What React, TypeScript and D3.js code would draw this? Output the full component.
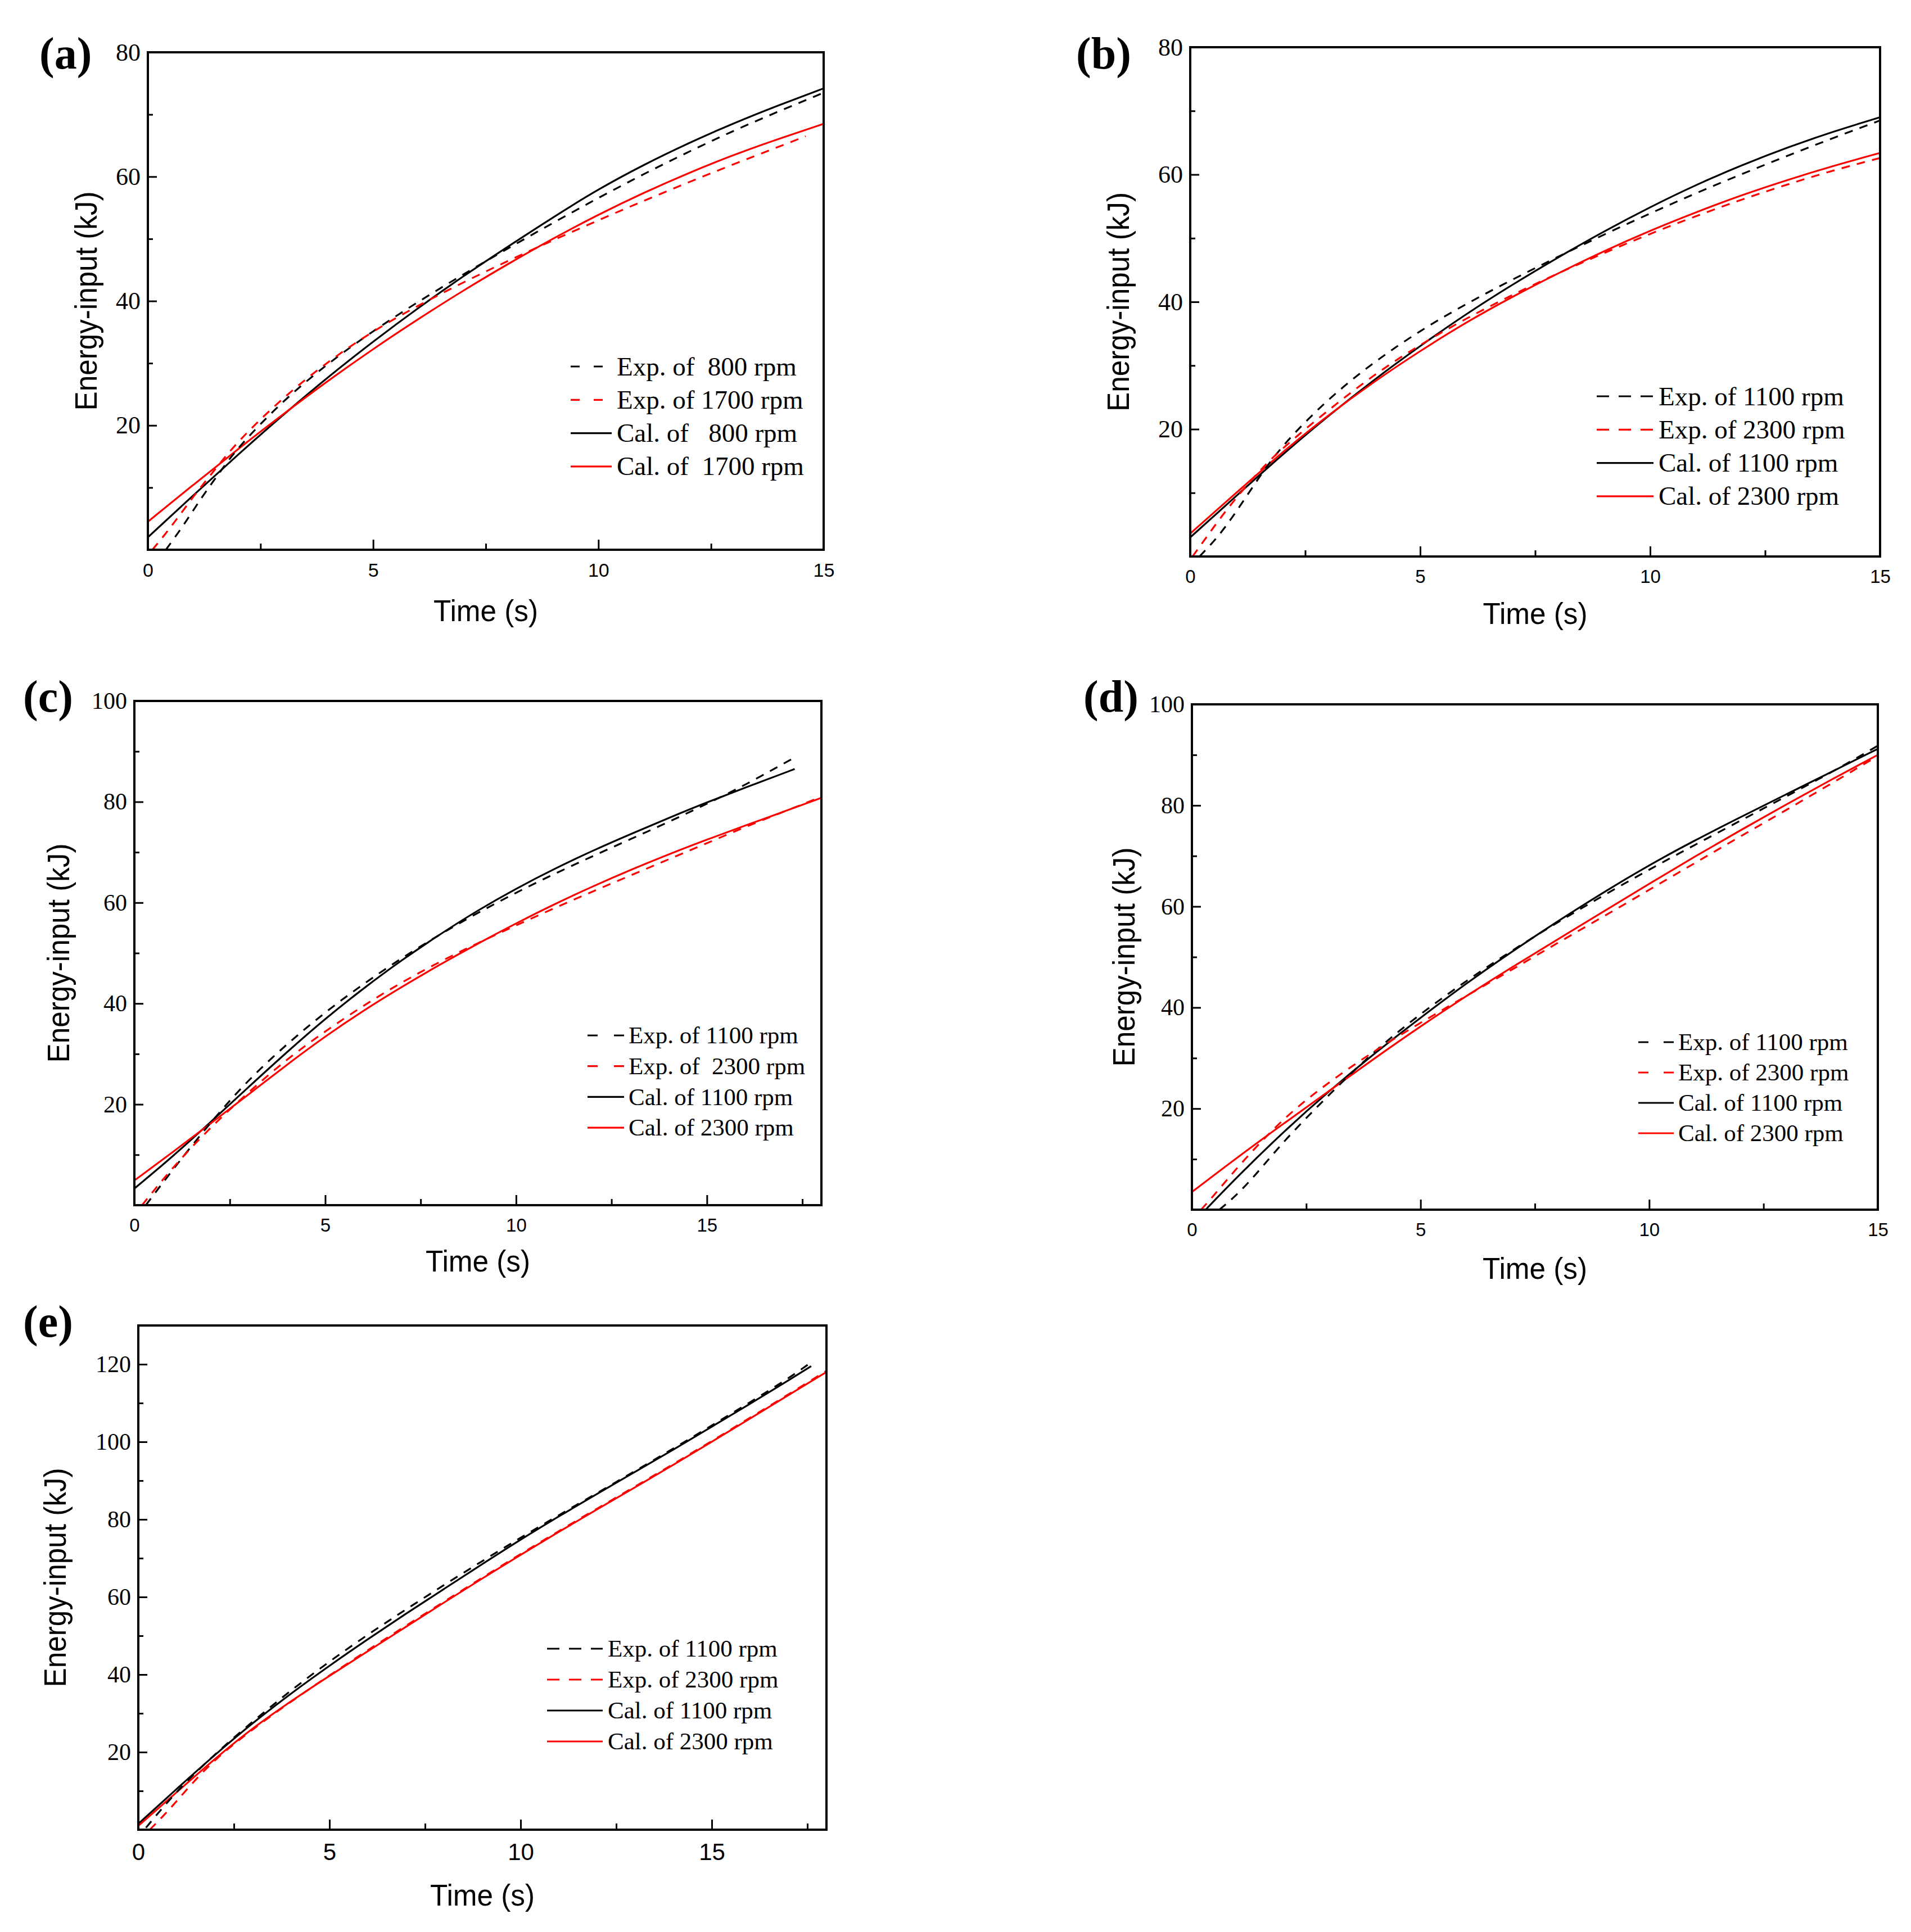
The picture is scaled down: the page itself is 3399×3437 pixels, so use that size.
import React, { useEffect, useRef } from "react";
import * as d3 from "d3";

type Pt = [number, number];

// ---- (a) 800 / 1700 rpm ----
const aExp800: Pt[] = [[0.4, 0], [0.8, 4], [1.2, 8.5], [1.6, 12.5], [2, 16.5], [3, 24], [4, 30], [5, 35.2], [6, 39.9], [7, 44.3], [8, 48.5], [9, 52.6], [10, 56.6], [11, 60.4], [12, 64], [13, 67.4], [14, 70.5], [15, 73.5]];
const aExp1700: Pt[] = [[0.1, 0], [0.5, 3.5], [1, 8.5], [1.5, 13], [2, 17.5], [3, 24.5], [4, 30.3], [5, 35.2], [6, 39.3], [7, 43], [8, 46.5], [9, 49.8], [10, 53], [11, 56.1], [12, 59.1], [13, 62], [14, 64.8], [14.6, 66.5]];
const aCal800: Pt[] = [[0, 2], [1, 8.7], [2, 15.3], [3, 21.7], [4, 27.8], [5, 33.5], [6, 38.9], [7, 44], [8, 48.8], [9, 53.5], [10, 58], [11, 61.9], [12, 65.4], [13, 68.6], [14, 71.5], [15, 74.2]];
const aCal1700: Pt[] = [[0, 4.5], [1, 10.4], [2, 16.2], [3, 21.8], [4, 27.2], [5, 32.3], [6, 37.1], [7, 41.7], [8, 46], [9, 50.1], [10, 53.9], [11, 57.4], [12, 60.6], [13, 63.5], [14, 66.1], [15, 68.5]];

// ---- (b) 1100 / 2300 rpm ----
const bExp1100: Pt[] = [[0.2, 0], [0.6, 3], [1, 7], [1.5, 12.5], [2, 17.5], [3, 24.8], [4, 30.6], [5, 35.5], [6, 39.7], [7, 43.5], [8, 47.1], [9, 50.6], [10, 53.9], [11, 57.1], [12, 60.1], [13, 63], [14, 65.8], [15, 68.5]];
const bExp2300: Pt[] = [[0.05, 0], [0.4, 3.5], [0.8, 7.5], [1.5, 13.5], [2, 17], [3, 23], [4, 28.6], [5, 33.3], [6, 37.4], [7, 41.1], [8, 44.5], [9, 47.7], [10, 50.7], [11, 53.5], [12, 56.1], [13, 58.5], [14, 60.7], [15, 62.6]];
const bCal1100: Pt[] = [[0, 3], [1, 9.5], [2, 16], [3, 22.1], [4, 27.8], [5, 33.1], [6, 38.1], [7, 42.7], [8, 47], [9, 51.1], [10, 54.9], [11, 58.4], [12, 61.5], [13, 64.3], [14, 66.8], [15, 69]];
const bCal2300: Pt[] = [[0, 3.6], [1, 10], [2, 16.4], [3, 22.2], [4, 27.5], [5, 32.3], [6, 36.8], [7, 40.8], [8, 44.5], [9, 48], [10, 51.2], [11, 54.1], [12, 56.8], [13, 59.2], [14, 61.4], [15, 63.4]];

// ---- (c) 1100 / 2300 rpm ----
const cExp1100: Pt[] = [[0.3, 0], [1, 7], [2, 16.5], [3, 25], [4, 32], [5, 38.3], [6, 43.9], [7, 49], [8, 53.7], [9, 58], [10, 62], [11, 65.7], [12, 69.2], [13, 72.6], [14, 76], [15, 79.6], [16, 83.3], [17.3, 88.8]];
const cExp2300: Pt[] = [[0.2, 0], [1, 7.5], [2, 15.5], [3, 22.5], [4, 29], [5, 34.5], [6, 39.6], [7, 44.2], [8, 48.3], [9, 52], [10, 55.5], [11, 58.9], [12, 62.2], [13, 65.4], [14, 68.6], [15, 71.8], [16, 75], [17, 78], [18, 81]];
const cCal1100: Pt[] = [[0, 3.3], [1, 9.6], [2, 16.5], [3, 23.5], [4, 30.4], [5, 37], [6, 43], [7, 48.6], [8, 53.7], [9, 58.5], [10, 62.8], [11, 66.7], [12, 70.3], [13, 73.6], [14, 76.8], [15, 79.9], [16, 82.8], [17.3, 86.5]];
const cCal2300: Pt[] = [[0, 4.9], [1, 10.5], [2, 16.2], [3, 22], [4, 27.9], [5, 33.5], [6, 38.6], [7, 43.3], [8, 47.7], [9, 51.9], [10, 55.9], [11, 59.7], [12, 63.2], [13, 66.5], [14, 69.6], [15, 72.5], [16, 75.3], [17, 78], [18, 80.8]];

// ---- (d) 1100 / 2300 rpm ----
const dExp1100: Pt[] = [[0.6, 0], [1, 3], [1.5, 8], [2, 13.5], [3, 22.8], [4, 31.5], [5, 38.8], [6, 45.3], [7, 51.3], [8, 56.9], [9, 62.2], [10, 67.3], [11, 72.2], [12, 77], [13, 81.8], [14, 86.6], [15, 91.8]];
const dExp2300: Pt[] = [[0.2, 0], [0.5, 3], [1, 8.5], [2, 18.2], [3, 25.3], [4, 31.5], [5, 37], [6, 42.3], [7, 47.5], [8, 52.8], [9, 58], [10, 63.3], [11, 68.6], [12, 73.9], [13, 79.1], [14, 84.4], [15, 89.8]];
const dCal1100: Pt[] = [[0.3, 0], [1, 6.6], [2, 15.4], [3, 23.5], [4, 31], [5, 38], [6, 44.8], [7, 51.1], [8, 57.1], [9, 62.8], [10, 68.2], [11, 73.1], [12, 77.7], [13, 82.2], [14, 86.7], [15, 91.2]];
const dCal2300: Pt[] = [[0, 3.5], [1, 10.4], [2, 17], [3, 23.5], [4, 30], [5, 36.3], [6, 42.3], [7, 48], [8, 53.5], [9, 59], [10, 64.5], [11, 69.9], [12, 75.1], [13, 80.2], [14, 85.2], [15, 90]];

// ---- (e) 1100 / 2300 rpm ----
const eExp1100: Pt[] = [[0.2, 0.5], [1, 10], [2, 19.5], [3, 28], [4, 36], [5, 43.4], [6, 50.3], [7, 56.8], [8, 63.1], [9, 69.3], [10, 75.3], [11, 81.1], [12, 86.8], [13, 92.5], [14, 98.3], [15, 104.2], [16, 110.2], [17, 116.3], [17.6, 120.5]];
const eExp2300: Pt[] = [[0.3, 0], [0.8, 5], [1.3, 10.8], [2, 18.2], [3, 26], [4, 33.1], [5, 39.8], [6, 46.3], [7, 52.6], [8, 58.8], [9, 65], [10, 71.1], [11, 77], [12, 82.8], [13, 88.5], [14, 94.3], [15, 100.2], [16, 106.2], [17, 112.2], [18, 118.3]];
const eCal1100: Pt[] = [[0, 1.5], [1, 10.5], [2, 19.3], [3, 27.6], [4, 35.2], [5, 42.3], [6, 49.1], [7, 55.7], [8, 62.1], [9, 68.5], [10, 74.8], [11, 80.8], [12, 86.6], [13, 92.3], [14, 98], [15, 103.9], [16, 109.8], [17, 115.8], [17.6, 119.5]];
const eCal2300: Pt[] = [[0, 1], [1, 9.6], [2, 18.3], [3, 26.3], [4, 33.2], [5, 39.7], [6, 46], [7, 52.3], [8, 58.6], [9, 64.8], [10, 70.9], [11, 76.8], [12, 82.6], [13, 88.3], [14, 94.1], [15, 100], [16, 106], [17, 112], [18, 118]];

// legend texts
const legendA = ["Exp. of  800 rpm", "Exp. of 1700 rpm", "Cal. of   800 rpm", "Cal. of  1700 rpm"];
const legendB = ["Exp. of 1100 rpm", "Exp. of 2300 rpm", "Cal. of 1100 rpm", "Cal. of 2300 rpm"];
const legendC = ["Exp. of 1100 rpm", "Exp. of  2300 rpm", "Cal. of 1100 rpm", "Cal. of 2300 rpm"];
const legendD = ["Exp. of 1100 rpm", "Exp. of 2300 rpm", "Cal. of 1100 rpm", "Cal. of 2300 rpm"];
const legendE = ["Exp. of 1100 rpm", "Exp. of 2300 rpm", "Cal. of 1100 rpm", "Cal. of 2300 rpm"];

// ticks
const xMajor15 = [0, 5, 10, 15];
const xMinor15 = [2.5, 7.5, 12.5];
const xMinor18 = [2.5, 7.5, 12.5, 17.5];
const yMajor80 = [20, 40, 60, 80];
const yMinor80 = [10, 30, 50, 70];
const yMajor100 = [20, 40, 60, 80, 100];
const yMinor100 = [10, 30, 50, 70, 90];
const yMajor130 = [20, 40, 60, 80, 100, 120];
const yMinor130 = [10, 30, 50, 70, 90, 110];

const colors = ["#000", "#ff0000", "#000", "#ff0000"];
const dashed = [true, true, false, false];

const W = 3399;
const H = 3437;
const SERIF = "'Liberation Serif', 'Times New Roman', serif";
const SANS = "'Liberation Sans', Arial, sans-serif";

const panels = [
  {
    tag: "(a)", series: [aExp800, aExp1700, aCal800, aCal1700], legend: legendA,
    xMax: 15, yMax: 80, xMajor: xMajor15, xMinor: xMinor15, yMajor: yMajor80, yMinor: yMinor80,
    frame: { x0: 263, x1: 1465, y0: 93, y1: 978 }, tagPos: [70, 122], yLabelX: 152, timeY: 1105,
    xFont: 34, yFont: 44,
    lg: { x: 1015, len: 73, tx: 1097, y: 652, gap: 59.3, font: 47, dash: "16,25" },
  },
  {
    tag: "(b)", series: [bExp1100, bExp2300, bCal1100, bCal2300], legend: legendB,
    xMax: 15, yMax: 80, xMajor: xMajor15, xMinor: xMinor15, yMajor: yMajor80, yMinor: yMinor80,
    frame: { x0: 2117, x1: 3344, y0: 84, y1: 990 }, tagPos: [1914, 122], yLabelX: 1988, timeY: 1110,
    xFont: 33, yFont: 44,
    lg: { x: 2840, len: 101, tx: 2950, y: 705, gap: 59.3, font: 47, dash: "22,17" },
  },
  {
    tag: "(c)", series: [cExp1100, cExp2300, cCal1100, cCal2300], legend: legendC,
    xMax: 18, yMax: 100, xMajor: xMajor15, xMinor: xMinor18, yMajor: yMajor100, yMinor: yMinor100,
    frame: { x0: 239, x1: 1461, y0: 1247, y1: 2144 }, tagPos: [41, 1266], yLabelX: 103, timeY: 2262,
    xFont: 33, yFont: 42,
    lg: { x: 1045, len: 65, tx: 1118, y: 1842, gap: 54.7, font: 43, dash: "18,29" },
  },
  {
    tag: "(d)", series: [dExp1100, dExp2300, dCal1100, dCal2300], legend: legendD,
    xMax: 15, yMax: 100, xMajor: xMajor15, xMinor: xMinor15, yMajor: yMajor100, yMinor: yMinor100,
    frame: { x0: 2120, x1: 3340, y0: 1253, y1: 2152 }, tagPos: [1927, 1266], yLabelX: 1998, timeY: 2275,
    xFont: 33, yFont: 42,
    lg: { x: 2914, len: 63, tx: 2985, y: 1854, gap: 54, font: 43, dash: "18,27" },
  },
  {
    tag: "(e)", series: [eExp1100, eExp2300, eCal1100, eCal2300], legend: legendE,
    xMax: 18, yMax: 130, xMajor: xMajor15, xMinor: xMinor18, yMajor: yMajor130, yMinor: yMinor130,
    frame: { x0: 246, x1: 1470, y0: 2358, y1: 3255 }, tagPos: [41, 2378], yLabelX: 97, timeY: 3390,
    xFont: 42, yFont: 42,
    lg: { x: 973, len: 99, tx: 1081, y: 2933, gap: 55, font: 43, dash: "22,17" },
  },
];

const App: React.FC = () => {
  const svgRef = useRef<SVGSVGElement | null>(null);

  useEffect(() => {
    if (svgRef.current) drawChart(svgRef.current);
  }, []);

  const drawChart = (el: SVGSVGElement) => {
    const svg = d3.select(el);
    svg.selectAll("*").remove();
    svg.append("rect").attr("width", W).attr("height", H).attr("fill", "#fff");

    panels.forEach((p, pi) => {
      const f = p.frame;
      const x = d3.scaleLinear().domain([0, p.xMax]).range([f.x0, f.x1]);
      const y = d3.scaleLinear().domain([0, p.yMax]).range([f.y1, f.y0]);
      const g = svg.append("g");

      // clip
      const clipId = `clip-${pi}`;
      g.append("clipPath").attr("id", clipId)
        .append("rect").attr("x", f.x0).attr("y", f.y0)
        .attr("width", f.x1 - f.x0).attr("height", f.y1 - f.y0);

      const line = d3.line<Pt>().x((d) => x(d[0])).y((d) => y(d[1])).curve(d3.curveBasis);

      // calculated first, experimental dashes on top
      [2, 3, 0, 1].forEach((si) => {
        g.append("path")
          .datum(p.series[si])
          .attr("clip-path", `url(#${clipId})`)
          .attr("fill", "none")
          .attr("stroke", colors[si])
          .attr("stroke-width", 3.2)
          .attr("stroke-dasharray", dashed[si] ? "15,13" : null)
          .attr("d", line);
      });

      // axes: inward ticks
      const styleAxis = (ax: d3.Selection<SVGGElement, unknown, null, undefined>, font: string, size: number) => {
        ax.attr("font-family", null).attr("font-size", null);
        ax.select(".domain").remove();
        ax.selectAll("line").attr("stroke", "#000").attr("stroke-width", 3);
        ax.selectAll("text").attr("fill", "#000").attr("font-family", font).attr("font-size", size);
      };

      const gx = g.append("g").attr("transform", `translate(0,${f.y1})`)
        .call(d3.axisBottom(x).tickValues(p.xMajor).tickSize(-18).tickPadding(24).tickFormat(d3.format("d")));
      styleAxis(gx, SANS, p.xFont);
      const gxm = g.append("g").attr("transform", `translate(0,${f.y1})`)
        .call(d3.axisBottom(x).tickValues(p.xMinor).tickSize(-11).tickFormat(() => ""));
      styleAxis(gxm, SANS, p.xFont);

      const gy = g.append("g").attr("transform", `translate(${f.x0},0)`)
        .call(d3.axisLeft(y).tickValues(p.yMajor).tickSize(-16).tickPadding(13).tickFormat(d3.format("d")));
      styleAxis(gy, SERIF, p.yFont);
      const gym = g.append("g").attr("transform", `translate(${f.x0},0)`)
        .call(d3.axisLeft(y).tickValues(p.yMinor).tickSize(-9).tickFormat(() => ""));
      styleAxis(gym, SERIF, p.yFont);

      // frame
      g.append("rect")
        .attr("x", f.x0).attr("y", f.y0)
        .attr("width", f.x1 - f.x0).attr("height", f.y1 - f.y0)
        .attr("fill", "none").attr("stroke", "#000").attr("stroke-width", 4);

      // axis titles
      g.append("text")
        .attr("transform", `translate(${p.yLabelX},${(f.y0 + f.y1) / 2}) rotate(-90)`)
        .attr("text-anchor", "middle")
        .attr("dominant-baseline", "central")
        .attr("font-family", SANS)
        .attr("font-size", 56)
        .attr("textLength", 390)
        .attr("lengthAdjust", "spacingAndGlyphs")
        .attr("fill", "#000")
        .text("Energy-input (kJ)");

      g.append("text")
        .attr("x", (f.x0 + f.x1) / 2)
        .attr("y", p.timeY)
        .attr("text-anchor", "middle")
        .attr("font-family", SANS)
        .attr("font-size", 54)
        .attr("textLength", 186)
        .attr("lengthAdjust", "spacingAndGlyphs")
        .attr("fill", "#000")
        .text("Time (s)");

      // panel tag
      g.append("text")
        .attr("x", p.tagPos[0])
        .attr("y", p.tagPos[1])
        .attr("font-family", SERIF)
        .attr("font-weight", "bold")
        .attr("font-size", 80)
        .attr("fill", "#000")
        .text(p.tag);

      // legend
      const lg = p.lg;
      p.legend.forEach((label, i) => {
        const cy = lg.y + i * lg.gap;
        g.append("line")
          .attr("x1", lg.x).attr("x2", lg.x + lg.len)
          .attr("y1", cy).attr("y2", cy)
          .attr("stroke", colors[i])
          .attr("stroke-width", 3.2)
          .attr("stroke-dasharray", dashed[i] ? lg.dash : null);
        g.append("text")
          .attr("x", lg.tx)
          .attr("y", cy + lg.font * 0.33)
          .attr("font-family", SERIF)
          .attr("font-size", lg.font)
          .attr("fill", "#000")
          .style("white-space", "pre")
          .text(label);
      });
    });
  };

  return (
    <div style={{ position: "absolute", left: 0, top: 0 }}>
      <svg ref={svgRef} width={W} height={H} style={{ display: "block" }}></svg>
    </div>
  );
};

export default App;
